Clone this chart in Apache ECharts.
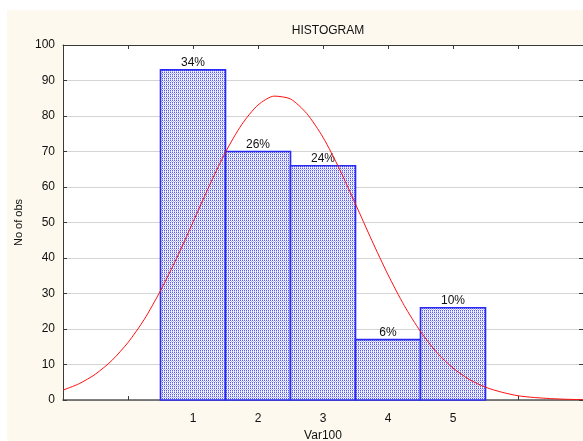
<!DOCTYPE html>
<html>
<head>
<meta charset="utf-8">
<style>
  html, body { margin: 0; padding: 0; background: #ffffff; }
  #chart { width: 583px; height: 441px; }
</style>
<script src="https://cdn.jsdelivr.net/npm/echarts@6/dist/echarts.min.js"></script>
</head>
<body>
<div id="chart"></div>
<script>
// Histogram of Var100: class midpoints, observed counts and share labels
const categories = [1, 2, 3, 4, 5];
const counts = [93, 70, 66, 17, 26];
const percentLabels = ['34%', '26%', '24%', '6%', '10%'];

// Expected normal curve (counts per class), sampled along the x axis
const curveX = [-1, -0.75, -0.5, -0.25, 0, 0.25, 0.5, 0.75, 1, 1.25, 1.5, 1.75, 2, 2.25, 2.5, 2.75,
                3, 3.25, 3.5, 3.75, 4, 4.25, 4.5, 4.75, 5, 5.25, 5.5, 5.75, 6, 6.25, 6.5, 6.75, 7];
const curveY = [2.8, 4.6, 7.3, 11.1, 16.2, 22.7, 30.8, 40.0, 50.1, 60.3, 69.8, 77.6, 83.1, 85.6, 84.8, 80.7,
                74.0, 65.2, 55.2, 45.0, 35.3, 26.6, 19.3, 13.4, 9.0, 5.8, 3.6, 2.2, 1.2, 0.7, 0.4, 0.2, 0.1];

const xTicks = [1, 2, 3, 4, 5];
const yTicks = [0, 10, 20, 30, 40, 50, 60, 70, 80, 90, 100];

// Dotted blue fill for the bars
function makePattern() {
  const c = document.createElement('canvas');
  c.width = 4; c.height = 4;
  const ctx = c.getContext('2d');
  const B = '#5558f0', W = '#f6f7ff', L = '#b3b6f8';
  const rows = [
    [B, W, B, W],
    [W, L, W, L],
    [B, W, B, W],
    [L, W, L, W]
  ];
  for (let y = 0; y < 4; y++) for (let x = 0; x < 4; x++) {
    ctx.fillStyle = rows[y][x];
    ctx.fillRect(x, y, 1, 1);
  }
  return c;
}
const pattern = makePattern();

const chart = echarts.init(document.getElementById('chart'), null, { renderer: 'canvas' });
const font = 'Liberation Sans, Arial, sans-serif';

const axisLine = { show: true, onZero: false, lineStyle: { color: '#3a3a3a', width: 1 } };
const axisTick = { show: true, inside: true, length: 4, lineStyle: { color: '#3a3a3a' } };

chart.setOption({
  animation: false,
  backgroundColor: '#ffffff',
  graphic: [{
    type: 'rect', left: 7, top: 10, z: -10,
    shape: { width: 576, height: 431 },
    style: { fill: '#fdf9ee' }
  }],
  title: {
    text: 'HISTOGRAM', left: 323, top: 20, textAlign: 'center',
    textStyle: { fontFamily: font, fontSize: 12, fontWeight: 'normal', color: '#111' }
  },
  grid: {
    left: 63, right: 0, top: 45, bottom: 41,
    outerBoundsMode: 'none', containLabel: false,
    show: true, backgroundColor: '#ffffff', borderWidth: 0
  },
  xAxis: [{
    type: 'value', min: -1, max: 7, interval: 1, position: 'bottom',
    name: 'Var100', nameLocation: 'middle', nameGap: 30,
    nameTextStyle: { fontFamily: font, fontSize: 12, color: '#111' },
    axisLine: { show: true, onZero: false, lineStyle: { color: '#555', width: 1.5 } },
    axisTick: axisTick,
    splitLine: { show: false },
    axisLabel: {
      fontFamily: font, fontSize: 12, color: '#111', margin: 13,
      formatter: v => (xTicks.indexOf(v) >= 0 ? String(v) : '')
    }
  }, {
    type: 'value', min: -1, max: 7, interval: 1, position: 'top',
    axisLine: axisLine, axisTick: axisTick,
    splitLine: { show: false }, axisLabel: { show: false }
  }],
  yAxis: [{
    type: 'value', min: 0, max: 100, interval: 10, position: 'left',
    name: 'No of obs', nameLocation: 'middle', nameGap: 38, nameRotate: 90,
    nameTextStyle: { fontFamily: font, fontSize: 11, color: '#111' },
    axisLine: axisLine, axisTick: axisTick,
    splitLine: { show: true, lineStyle: { color: '#d4d4d4', width: 1 } },
    axisLabel: {
      fontFamily: font, fontSize: 12, color: '#111', margin: 8,
      formatter: v => (yTicks.indexOf(v) >= 0 ? String(v) : '')
    }
  }, {
    type: 'value', min: 0, max: 100, interval: 10, position: 'right',
    axisLine: axisLine, axisTick: axisTick,
    splitLine: { show: false }, axisLabel: { show: false }
  }],
  series: [{
    type: 'custom',
    xAxisIndex: 0, yAxisIndex: 0,
    data: categories.map((c, i) => [c, counts[i], i]),
    encode: { x: 0, y: 1 },
    z: 2,
    renderItem: function (params, api) {
      const mid = api.value(0);
      const val = api.value(1);
      const idx = api.value(2);
      const p0 = api.coord([mid - 0.5, 0]);
      const p1 = api.coord([mid + 0.5, val]);
      return {
        type: 'group',
        children: [{
          type: 'rect',
          shape: { x: p0[0], y: p1[1], width: p1[0] - p0[0], height: p0[1] - p1[1] },
          style: { fill: { image: pattern, repeat: 'repeat' }, stroke: '#2a2af5', lineWidth: 1.6 }
        }, {
          type: 'text',
          style: {
            x: (p0[0] + p1[0]) / 2, y: p1[1] - 1,
            text: percentLabels[idx],
            align: 'center', verticalAlign: 'bottom',
            font: '12px ' + font, fill: '#111'
          }
        }]
      };
    }
  }, {
    type: 'line',
    xAxisIndex: 0, yAxisIndex: 0,
    data: curveX.map((x, i) => [x, curveY[i]]),
    smooth: 0.25, showSymbol: false, symbol: 'none',
    lineStyle: { color: '#ff1010', width: 1 },
    z: 3
  }]
});
</script>
</body>
</html>
